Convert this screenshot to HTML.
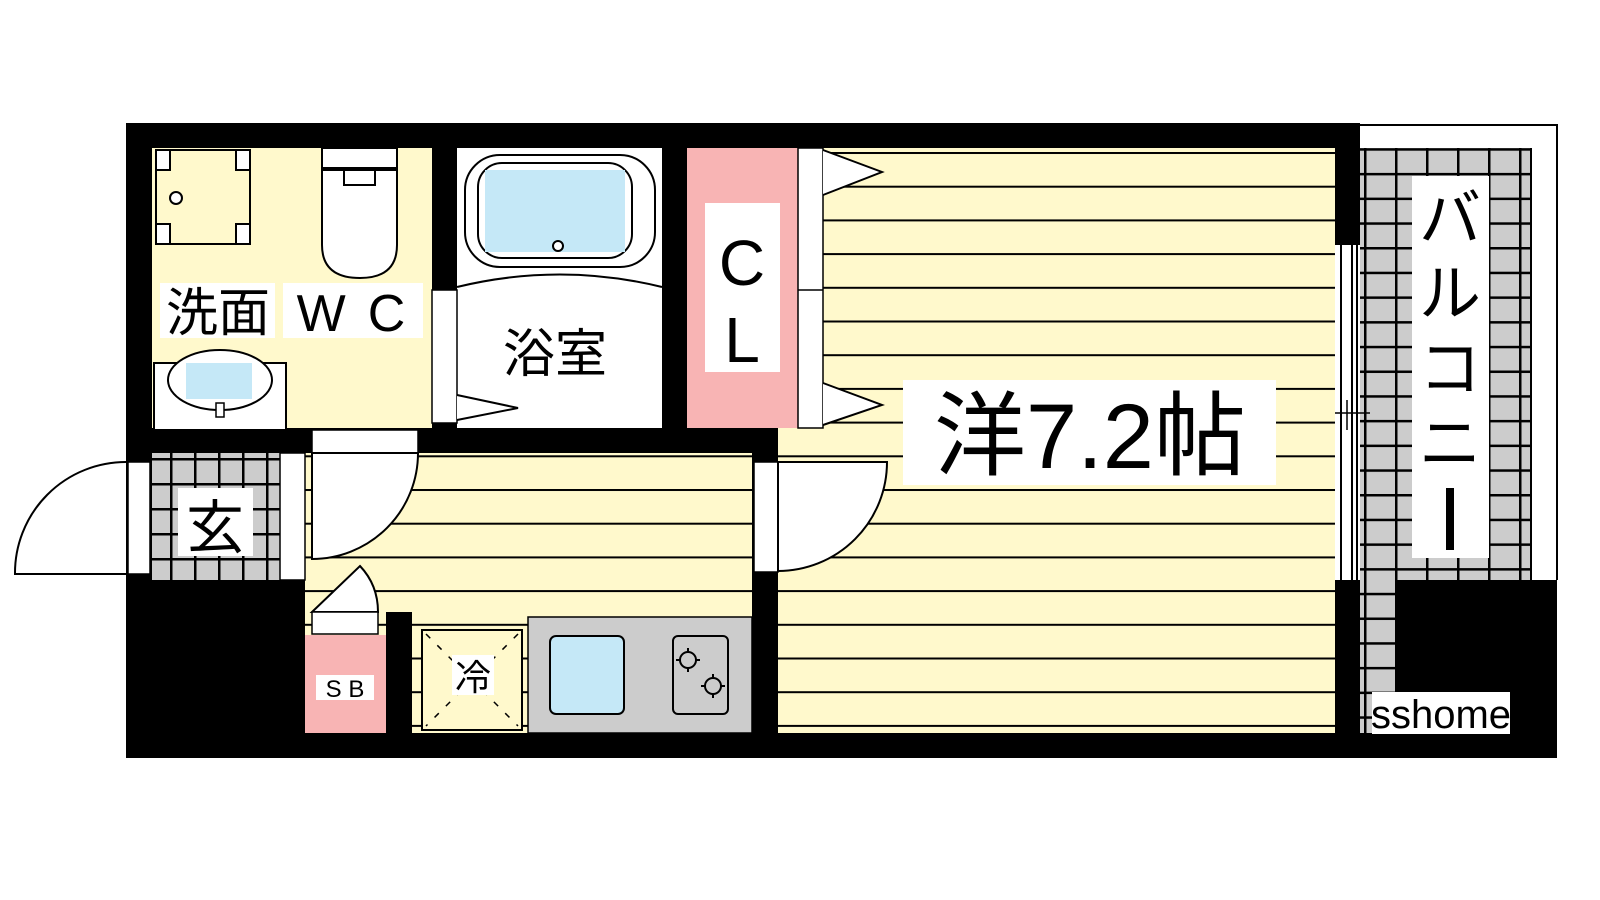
<!DOCTYPE html>
<html><head><meta charset="utf-8"><style>
html,body{margin:0;padding:0;background:#fff;width:1600px;height:900px;overflow:hidden}
text{font-family:"Liberation Sans","Noto Sans CJK JP",sans-serif;fill:#000}
</style></head><body>
<svg width="1600" height="900" viewBox="0 0 1600 900" xmlns="http://www.w3.org/2000/svg">
<defs>
<pattern id="stripe" x="0" y="152" width="10" height="33.7" patternUnits="userSpaceOnUse">
<rect width="10" height="33.7" fill="#fff9cc"/><rect y="0" width="10" height="2" fill="#000"/></pattern>
<pattern id="tile" x="0" y="0" width="31" height="24.7" patternUnits="userSpaceOnUse">
<rect width="31" height="24.7" fill="#ccc"/><rect width="2.5" height="24.7" fill="#000"/><rect width="31" height="2.5" fill="#000"/></pattern>
<pattern id="tile2" x="2" y="8" width="24" height="25" patternUnits="userSpaceOnUse">
<rect width="24" height="25" fill="#ccc"/><rect width="2.5" height="25" fill="#000"/><rect width="24" height="2.5" fill="#000"/></pattern>
</defs>
<rect x="126" y="123" width="1234" height="635" fill="#000"/>
<rect x="1360" y="733" width="197" height="25" fill="#000"/>
<path d="M1357 125 H1557 V580" fill="none" stroke="#000" stroke-width="2"/>
<rect x="1360" y="148" width="172" height="585" fill="url(#tile)"/>
<rect x="1530" y="148" width="2" height="432" fill="#000"/>
<rect x="1395" y="580" width="162" height="153" fill="#000"/>
<rect x="1335" y="245" width="25" height="335" fill="#fff"/>
<line x1="1341" y1="245" x2="1341" y2="580" stroke="#000" stroke-width="2"/>
<line x1="1352" y1="245" x2="1352" y2="580" stroke="#000" stroke-width="2"/>
<line x1="1357" y1="245" x2="1357" y2="580" stroke="#000" stroke-width="2"/>
<line x1="1325" y1="413" x2="1370" y2="413" stroke="#000" stroke-width="1.5"/>
<line x1="1347" y1="400" x2="1347" y2="430" stroke="#000" stroke-width="1.5"/>
<rect x="778" y="148" width="557" height="585" fill="url(#stripe)"/>
<rect x="752" y="453" width="26" height="280" fill="#000"/>
<rect x="687" y="148" width="111" height="280" fill="#f8b4b4"/>
<rect x="798" y="148" width="25" height="280" fill="#fff" stroke="#000" stroke-width="1.5"/>
<line x1="798" y1="290" x2="823" y2="290" stroke="#000" stroke-width="1.5"/>
<path d="M823 150 L882 172 L823 195" fill="#fff" stroke="#000" stroke-width="2"/>
<path d="M823 383 L882 405 L823 425" fill="#fff" stroke="#000" stroke-width="2"/>
<rect x="705" y="203" width="75" height="169" fill="#fff"/>
<text x="742" y="285" font-size="64" text-anchor="middle">C</text>
<text x="742" y="362" font-size="64" text-anchor="middle">L</text>
<rect x="152" y="148" width="280" height="280" fill="#fff9cc"/>
<rect x="156" y="150" width="94" height="94" fill="#fff9cc"/>
<rect x="156" y="150" width="14" height="20" fill="#fff"/><rect x="236" y="150" width="14" height="20" fill="#fff"/>
<rect x="156" y="224" width="14" height="20" fill="#fff"/><rect x="236" y="224" width="14" height="20" fill="#fff"/>
<path d="M156 150 H250 V244 H156 Z M170 150 V170 H156 M236 150 V170 H250 M170 244 V224 H156 M236 244 V224 H250" fill="none" stroke="#000" stroke-width="2"/>
<circle cx="176" cy="198" r="6" fill="#fff" stroke="#000" stroke-width="2"/>
<rect x="322" y="148" width="75" height="20" fill="#fff" stroke="#000" stroke-width="2"/>
<path d="M322 170 H397 V245 Q397 278 360 278 Q322 278 322 245 Z" fill="#fff" stroke="#000" stroke-width="2"/>
<path d="M344 170 V185 H375 V170" fill="none" stroke="#000" stroke-width="2"/>
<rect x="160" y="283" width="115" height="55" fill="#fff"/>
<text x="218" y="331" font-size="52" text-anchor="middle">洗面</text>
<rect x="283" y="283" width="140" height="55" fill="#fff"/>
<text x="362" y="331" font-size="52" text-anchor="middle" letter-spacing="22">WC</text>
<rect x="154" y="363" width="132" height="67" fill="#fff" stroke="#000" stroke-width="2"/>
<ellipse cx="220" cy="380" rx="52" ry="30" fill="#fff" stroke="#000" stroke-width="2"/>
<rect x="186" y="363" width="66" height="36" fill="#c5e8f7"/>
<rect x="216" y="403" width="8" height="14" fill="#fff" stroke="#000" stroke-width="1.5"/>
<rect x="457" y="148" width="205" height="280" fill="#fff"/>
<rect x="432" y="290" width="25" height="133" fill="#fff" stroke="#000" stroke-width="1.5"/>
<path d="M457 395 L518 408 L457 420" fill="#fff" stroke="#000" stroke-width="2"/>
<rect x="465" y="155" width="190" height="112" rx="35" fill="#fff" stroke="#000" stroke-width="2"/>
<rect x="478" y="163" width="154" height="95" rx="24" fill="#fff" stroke="#000" stroke-width="2"/>
<rect x="485" y="170" width="140" height="82" fill="#c5e8f7"/>
<circle cx="558" cy="246" r="5" fill="#fff" stroke="#000" stroke-width="2"/>
<path d="M457 287 Q560 262 662 287" fill="none" stroke="#000" stroke-width="2"/>
<text x="555" y="372" font-size="52" text-anchor="middle">浴室</text>
<rect x="305" y="453" width="447" height="280" fill="url(#stripe)"/>
<rect x="312" y="430" width="106" height="23" fill="#fff" stroke="#000" stroke-width="1.5"/>
<path d="M312 453 H418 A106 106 0 0 1 312 559 Z" fill="#fff" stroke="#000" stroke-width="2"/>
<rect x="754" y="462" width="24" height="110" fill="#fff" stroke="#000" stroke-width="1.5"/>
<path d="M778 462 H887 A109 109 0 0 1 778 571 Z" fill="#fff" stroke="#000" stroke-width="2"/>
<rect x="152" y="453" width="128" height="127" fill="url(#tile2)"/>
<rect x="280" y="453" width="25" height="127" fill="#fff" stroke="#000" stroke-width="1.5"/>
<rect x="128" y="462" width="22" height="112" fill="#fff" stroke="#000" stroke-width="1.5"/>
<path d="M126 462 A111 111 0 0 0 15 574 H126" fill="#fff" stroke="#000" stroke-width="2"/>
<rect x="178" y="488" width="75" height="68" fill="#fff"/>
<text x="215" y="548" font-size="58" text-anchor="middle">玄</text>
<rect x="126" y="580" width="179" height="153" fill="#000"/>
<rect x="386" y="612" width="26" height="121" fill="#000"/>
<path d="M312 612 L360 566 Q378 585 378 612 Z" fill="#fff" stroke="#000" stroke-width="2"/>
<rect x="312" y="612" width="66" height="22" fill="#fff" stroke="#000" stroke-width="1.5"/>
<rect x="305" y="635" width="81" height="98" fill="#f8b4b4"/>
<rect x="316" y="675" width="58" height="25" fill="#fff"/>
<text x="345" y="697" font-size="24" text-anchor="middle">S B</text>
<rect x="422" y="630" width="100" height="100" fill="#fff9cc" stroke="#000" stroke-width="2"/>
<path d="M426 634 L518 726 M518 634 L426 726" stroke="#000" stroke-width="1.5" stroke-dasharray="6 10"/>
<rect x="452" y="655" width="42" height="40" fill="#fff"/>
<text x="473" y="690" font-size="36" text-anchor="middle">冷</text>
<rect x="528" y="617" width="224" height="116" fill="#ccc" stroke="#000" stroke-width="1.5"/>
<rect x="550" y="636" width="74" height="78" rx="6" fill="#c5e8f7" stroke="#000" stroke-width="2"/>
<rect x="673" y="636" width="55" height="78" rx="5" fill="#ccc" stroke="#000" stroke-width="2"/>
<circle cx="688" cy="660" r="8" fill="none" stroke="#000" stroke-width="2"/>
<circle cx="713" cy="686" r="8" fill="none" stroke="#000" stroke-width="2"/>
<path d="M688 648 V652 M688 668 V672 M676 660 H680 M696 660 H700 M713 674 V678 M713 694 V698 M701 686 H705 M721 686 H725" stroke="#000" stroke-width="2"/>
<rect x="903" y="380" width="373" height="105" fill="#fff"/>
<text x="1090" y="468" font-size="92" text-anchor="middle">洋7.2帖</text>
<rect x="1412" y="176" width="77" height="382" fill="#fff"/>
<text x="1450" y="240" font-size="62" text-anchor="middle">バ</text>
<text x="1450" y="315" font-size="62" text-anchor="middle">ル</text>
<text x="1450" y="390" font-size="62" text-anchor="middle">コ</text>
<text x="1450" y="465" font-size="62" text-anchor="middle">ニ</text>
<rect x="1446" y="488" width="8" height="62" fill="#000"/>
<rect x="1372" y="692" width="138" height="42" fill="#fff"/>
<text x="1441" y="728" font-size="40" text-anchor="middle">sshome</text>
</svg>
</body></html>
